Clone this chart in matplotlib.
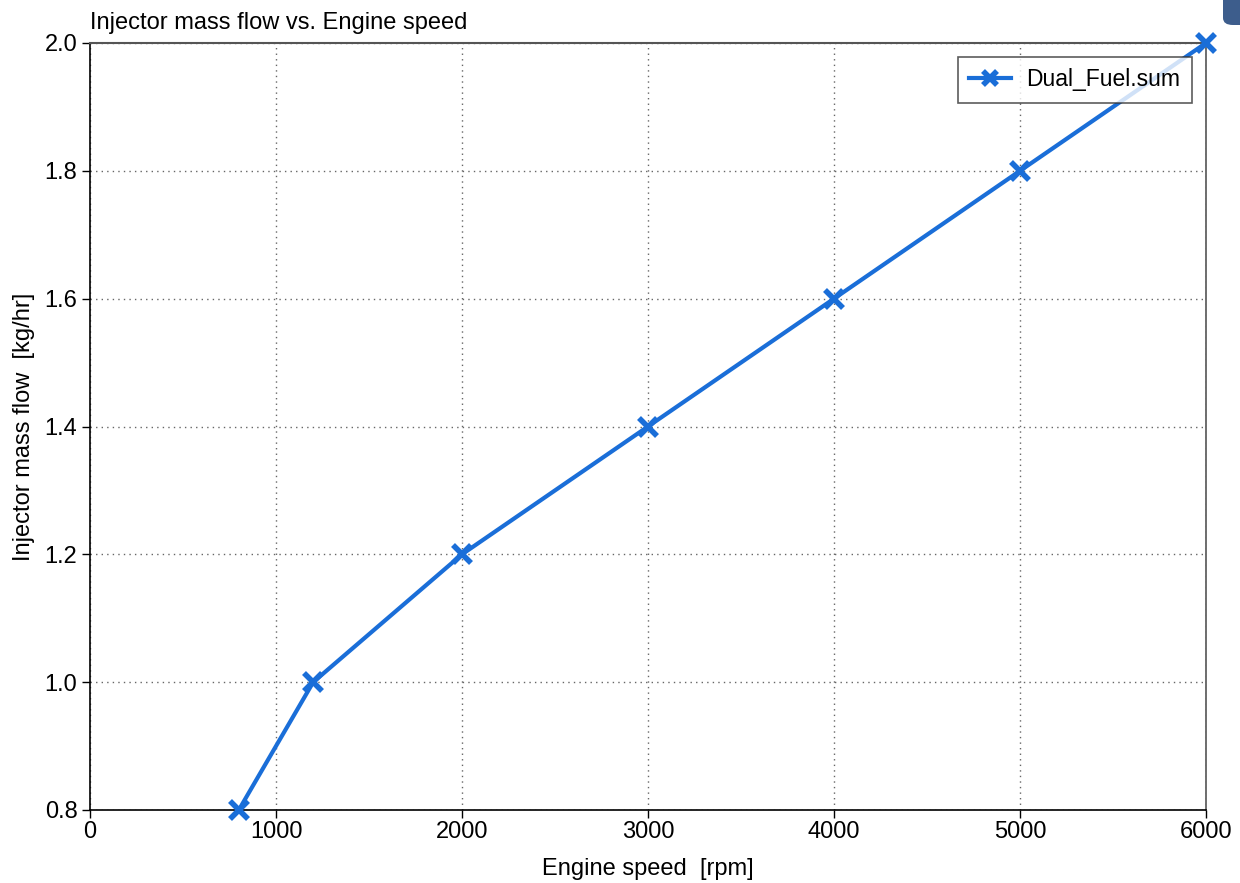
import matplotlib
matplotlib.use("Agg")
import matplotlib.pyplot as plt
from matplotlib.patches import FancyBboxPatch

plt.rcParams['font.family'] = ['Liberation Sans', 'DejaVu Sans']

engine_speed = [800, 1200, 2000, 3000, 4000, 5000, 6000]
mass_flow = [0.8, 1.0, 1.2, 1.4, 1.6, 1.8, 2.0]
series_name = "Dual_Fuel.sum"
x_ticks = [0, 1000, 2000, 3000, 4000, 5000, 6000]
y_ticks = [0.8, 1.0, 1.2, 1.4, 1.6, 1.8, 2.0]

fig = plt.figure(figsize=(12.4, 8.83), dpi=100)
ax = fig.add_axes([90/1240, 73/883, 1116/1240, 767/883])

color = '#1a6ed8'
ax.plot(engine_speed, mass_flow, color=color, lw=3, marker='x', ms=13, mew=4,
        label=series_name, clip_on=False, zorder=5)

ax.set_xlim(0, 6000)
ax.set_ylim(0.8, 2.0)
ax.set_xticks(x_ticks)
ax.set_yticks(y_ticks)
ax.set_yticklabels([f"{v:.1f}" for v in y_ticks])
ax.tick_params(direction='out', length=6, width=1, labelsize=17)
ax.tick_params(axis='x', pad=2)
ax.tick_params(axis='y', pad=3)
ax.grid(True, linestyle=(0, (1, 3)), color='#666666', lw=1)

for s in ['left', 'bottom']:
    ax.spines[s].set_color('black')
    ax.spines[s].set_linewidth(1.2)
ax.spines['top'].set_color('#555555')
ax.spines['right'].set_color('#555555')
ax.spines['top'].set_linewidth(1.5)
ax.spines['right'].set_linewidth(1.2)

ax.set_xlabel("Engine speed  [rpm]", fontsize=17, labelpad=11)
ax.set_ylabel("Injector mass flow  [kg/hr]", fontsize=17, labelpad=7)
ax.set_title("Injector mass flow vs. Engine speed", fontsize=17, loc='left', pad=10)

leg = ax.legend(loc='upper right', bbox_to_anchor=(1102/1116, 1 - 14/767), fontsize=16.5,
                frameon=True, fancybox=False, edgecolor='#333333', handlelength=1.8,
                borderpad=0.5, borderaxespad=0, markerscale=0.8, handletextpad=0.7)
leg.get_frame().set_linewidth(1.2)

fig.patches.append(FancyBboxPatch((1223/1240, 858/883), 30/1240, 40/883,
                                  boxstyle="round,pad=0,rounding_size=0.008",
                                  transform=fig.transFigure, facecolor='#3d5d8c',
                                  edgecolor='none'))

fig.savefig("out.png", dpi=100)
